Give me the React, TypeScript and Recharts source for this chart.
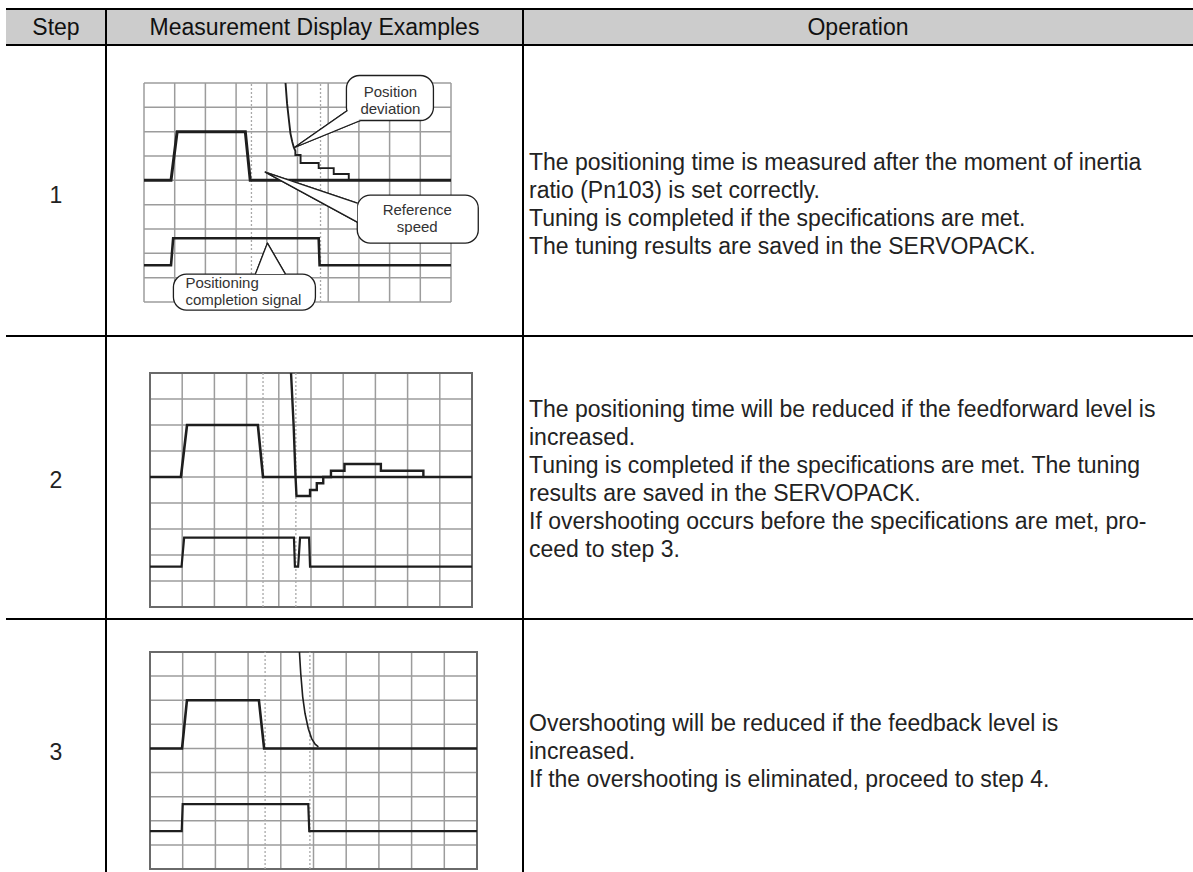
import React from 'react';
import {
  LineChart,
  Line,
  XAxis,
  YAxis,
  CartesianGrid,
  ReferenceLine,
  ReferenceArea,
  ReferenceDot,
} from 'recharts';

type Pt = { x: number; y: number };

const headers = ['Step', 'Measurement Display Examples', 'Operation'];
const steps = ['1', '2', '3'];

const operation1 = [
  'The positioning time is measured after the moment of inertia',
  'ratio (Pn103) is set correctly.',
  'Tuning is completed if the specifications are met.',
  'The tuning results are saved in the SERVOPACK.',
];
const operation2 = [
  'The positioning time will be reduced if the feedforward level is',
  'increased.',
  'Tuning is completed if the specifications are met. The tuning',
  'results are saved in the SERVOPACK.',
  'If overshooting occurs before the specifications are met, pro-',
  'ceed to step 3.',
];
const operation3 = [
  'Overshooting will be reduced if the feedback level is',
  'increased.',
  'If the overshooting is eliminated, proceed to step 4.',
];

// grid divisions of the scope screen
const divX = [0, 1, 2, 3, 4, 5, 6, 7, 8, 9, 10];
const divY = [0, 1, 2, 3, 4, 5, 6, 7, 8, 9];
const divYOpenTop = [0, 1, 2, 3, 4, 5, 6, 7, 8];

// step 1
const speed1: Pt[] = [
  { x: 0, y: 5 }, { x: 0.88, y: 5 }, { x: 1.08, y: 7 }, { x: 3.3, y: 7 }, { x: 3.46, y: 5 }, { x: 10, y: 5 },
];
const deviation1: Pt[] = [
  { x: 4.61, y: 9 }, { x: 4.66, y: 8.16 }, { x: 4.72, y: 7.48 }, { x: 4.77, y: 6.93 }, { x: 4.83, y: 6.58 },
  { x: 4.88, y: 6.35 }, { x: 4.93, y: 6.21 }, { x: 4.93, y: 6.04 }, { x: 5.1, y: 6.04 }, { x: 5.1, y: 5.71 },
  { x: 5.69, y: 5.71 }, { x: 5.69, y: 5.5 }, { x: 6.18, y: 5.5 }, { x: 6.18, y: 5.26 }, { x: 6.67, y: 5.26 },
  { x: 6.67, y: 5 },
];
const completion1: Pt[] = [
  { x: 0, y: 1.51 }, { x: 0.88, y: 1.51 }, { x: 0.95, y: 2.62 }, { x: 5.69, y: 2.62 }, { x: 5.72, y: 1.51 }, { x: 10, y: 1.51 },
];
const dotted1 = [3.5, 5.75];

// step 2
const speed2: Pt[] = [
  { x: 0, y: 5 }, { x: 0.96, y: 5 }, { x: 1.15, y: 7 }, { x: 3.35, y: 7 }, { x: 3.51, y: 5 }, { x: 10, y: 5 },
];
const deviation2: Pt[] = [
  { x: 4.38, y: 9 }, { x: 4.46, y: 7 }, { x: 4.52, y: 5 }, { x: 4.55, y: 4.27 }, { x: 4.97, y: 4.27 },
  { x: 4.97, y: 4.5 }, { x: 5.18, y: 4.5 }, { x: 5.18, y: 4.76 }, { x: 5.38, y: 4.76 }, { x: 5.38, y: 5 },
  { x: 5.62, y: 5 }, { x: 5.62, y: 5.24 }, { x: 6.04, y: 5.24 }, { x: 6.04, y: 5.5 }, { x: 7.17, y: 5.5 },
  { x: 7.17, y: 5.24 }, { x: 8.49, y: 5.24 }, { x: 8.49, y: 5 },
];
const completion2: Pt[] = [
  { x: 0, y: 1.55 }, { x: 0.98, y: 1.55 }, { x: 1.06, y: 2.67 }, { x: 4.47, y: 2.67 }, { x: 4.5, y: 1.55 },
  { x: 4.6, y: 1.55 }, { x: 4.66, y: 2.67 }, { x: 4.94, y: 2.67 }, { x: 4.97, y: 1.55 }, { x: 10, y: 1.55 },
];
const dotted2 = [3.51, 4.53];

// step 3
const speed3: Pt[] = [
  { x: 0, y: 5 }, { x: 0.98, y: 5 }, { x: 1.13, y: 7 }, { x: 3.33, y: 7 }, { x: 3.49, y: 5 }, { x: 10, y: 5 },
];
const deviation3: Pt[] = [
  { x: 4.57, y: 9 }, { x: 4.61, y: 8.11 }, { x: 4.67, y: 7.14 }, { x: 4.74, y: 6.46 }, { x: 4.84, y: 5.83 },
  { x: 4.94, y: 5.42 }, { x: 5.05, y: 5.18 }, { x: 5.15, y: 5.07 },
];
const completion3: Pt[] = [
  { x: 0, y: 1.57 }, { x: 0.97, y: 1.57 }, { x: 1.0, y: 2.69 }, { x: 4.84, y: 2.69 }, { x: 4.87, y: 1.57 }, { x: 10, y: 1.57 },
];
const dotted3 = [3.52, 4.89];

// callout tips (data coordinates) and labels, step 1
const deviationTip: Pt = { x: 4.9, y: 6.35 };
const speedTip: Pt = { x: 3.95, y: 5.34 };
const completionTip: Pt = { x: 4.02, y: 2.42 };
const deviationLabel = ['Position', 'deviation'];
const speedLabel = ['Reference', 'speed'];
const completionLabel = ['Positioning', 'completion signal'];

const FONT = '"Liberation Sans", Arial, Helvetica, sans-serif';
const INK = '#1e1e1e';
const TEXT_SIZE = 23;

type Callout = {
  box: [number, number, number, number]; // left, top, right, bottom relative to tip
  base: [number, number, number, number];
  text: { dx: number; dy: number; anchor: 'start' | 'middle'; step: number };
  lines: string[];
};

function calloutShape(c: Callout) {
  return (props: any) => {
    const { cx, cy } = props;
    const [l, t, r, b] = c.box;
    const [b1x, b1y, b2x, b2y] = c.base;
    const wedge = `M${cx + b1x},${cy + b1y} L${cx},${cy} L${cx + b2x},${cy + b2y}`;
    return (
      <g>
        <path d={wedge + ' Z'} fill="#fff" stroke={INK} strokeWidth={1.3} strokeLinejoin="round" />
        <rect x={cx + l} y={cy + t} width={r - l} height={b - t} rx={13} ry={13} fill="#fff" stroke={INK} strokeWidth={1.3} />
        <path d={wedge + ' Z'} fill="#fff" stroke="none" />
        <path d={wedge} fill="none" stroke={INK} strokeWidth={1.3} strokeLinejoin="round" />
        {c.lines.map((s, i) => (
          <text
            key={s}
            x={cx + c.text.dx}
            y={cy + c.text.dy + i * c.text.step}
            textAnchor={c.text.anchor}
            fontFamily={FONT}
            fontSize={15}
            fill="#333"
          >
            {s}
          </text>
        ))}
      </g>
    );
  };
}

const deviationCallout: Callout = {
  box: [52, -72, 139, -27],
  base: [53, -37, 66, -27],
  text: { dx: 96, dy: -50, anchor: 'middle', step: 16.5 },
  lines: deviationLabel,
};
const speedCallout: Callout = {
  box: [92, 23, 213, 71],
  base: [92, 31, 92, 50],
  text: { dx: 152, dy: 43, anchor: 'middle', step: 17 },
  lines: speedLabel,
};
const completionCallout: Callout = {
  box: [-94, 31, 48, 67],
  base: [-12, 31, 18, 31],
  text: { dx: -82, dy: 45, anchor: 'start', step: 16.5 },
  lines: completionLabel,
};

interface ScopeProps {
  left: number;
  top: number;
  width: number;
  height: number;
  margin: { top: number; right: number; bottom: number; left: number };
  speed: Pt[];
  deviation: Pt[];
  completion: Pt[];
  dotted: number[];
  framed: boolean;
  yTicks: number[];
  thick: number;
  devWidth: number;
  callouts?: { tip: Pt; c: Callout }[];
}

function Scope({ left, top, width, height, margin, speed, deviation, completion, dotted, framed, yTicks, thick, devWidth, callouts }: ScopeProps) {
  return (
    <div style={{ position: 'absolute', left, top, width, height }}>
      <LineChart width={width} height={height} margin={margin}>
        <CartesianGrid stroke="#9c9c9c" strokeWidth={1.5} />
        <XAxis type="number" dataKey="x" domain={[0, 10]} ticks={divX} hide allowDataOverflow />
        <YAxis type="number" dataKey="y" domain={[0, 9]} ticks={yTicks} hide allowDataOverflow />
        {dotted.map((x) => (
          <ReferenceLine key={x} x={x} stroke="#a8a8a8" strokeWidth={1.3} strokeDasharray="2 2" />
        ))}
        {framed && (
          <ReferenceArea x1={0} x2={10} y1={0} y2={9} fill="none" stroke="#6a6a6a" strokeWidth={2} ifOverflow="visible" />
        )}
        <Line data={speed} dataKey="y" type="linear" stroke={INK} strokeWidth={thick} dot={false} isAnimationActive={false} />
        <Line data={completion} dataKey="y" type="linear" stroke={INK} strokeWidth={thick - 0.4} dot={false} isAnimationActive={false} />
        <Line data={deviation} dataKey="y" type="linear" stroke={INK} strokeWidth={devWidth} dot={false} isAnimationActive={false} />
        {(callouts || []).map(({ tip, c }, i) => (
          <ReferenceDot key={i} x={tip.x} y={tip.y} r={1} ifOverflow="visible" shape={calloutShape(c)} />
        ))}
      </LineChart>
    </div>
  );
}

const rule = (style: React.CSSProperties) => <div style={{ position: 'absolute', background: '#000', ...style }} />;

function TextBlock({ lines, top }: { lines: string[]; top: number }) {
  return (
    <div
      style={{
        position: 'absolute',
        left: 529,
        top,
        fontFamily: FONT,
        fontSize: TEXT_SIZE,
        lineHeight: '27.9px',
        color: '#222',
        whiteSpace: 'nowrap',
      }}
    >
      {lines.map((s) => (
        <div key={s}>{s}</div>
      ))}
    </div>
  );
}

function StepNo({ label, center }: { label: string; center: number }) {
  return (
    <div
      style={{
        position: 'absolute',
        left: 6,
        width: 100,
        top: center - 14,
        height: 28,
        lineHeight: '28px',
        textAlign: 'center',
        fontFamily: FONT,
        fontSize: TEXT_SIZE,
        color: '#222',
      }}
    >
      {label}
    </div>
  );
}

export default function App() {
  const headerCells = [
    { left: 6, width: 100 },
    { left: 106, width: 417 },
    { left: 523, width: 670 },
  ];
  return (
    <div style={{ position: 'absolute', left: 0, top: 0, width: 1193, height: 872, background: '#fff', overflow: 'hidden' }}>
      <div style={{ position: 'absolute', left: 6, top: 9, width: 1187, height: 36, background: '#cccccc' }} />
      {headers.map((h, i) => (
        <div
          key={h}
          style={{
            position: 'absolute',
            left: headerCells[i].left,
            width: headerCells[i].width,
            top: 9,
            height: 36,
            lineHeight: '36px',
            textAlign: 'center',
            fontFamily: FONT,
            fontSize: TEXT_SIZE,
            color: '#111',
          }}
        >
          {h}
        </div>
      ))}
      {rule({ left: 6, top: 8, width: 1187, height: 2 })}
      {rule({ left: 6, top: 44, width: 1187, height: 2 })}
      {rule({ left: 6, top: 335, width: 1187, height: 2 })}
      {rule({ left: 6, top: 618, width: 1187, height: 2 })}
      {rule({ left: 105, top: 9, width: 2, height: 863 })}
      {rule({ left: 522, top: 9, width: 2, height: 863 })}

      <StepNo label={steps[0]} center={195} />
      <StepNo label={steps[1]} center={480} />
      <StepNo label={steps[2]} center={752} />

      <TextBlock lines={operation1} top={149} />
      <TextBlock lines={operation2} top={396} />
      <TextBlock lines={operation3} top={710} />

      <Scope
        left={130}
        top={60}
        width={360}
        height={260}
        margin={{ top: 23, right: 39, bottom: 18, left: 14 }}
        speed={speed1}
        deviation={deviation1}
        completion={completion1}
        dotted={dotted1}
        framed={false}
        yTicks={divYOpenTop}
        thick={3}
        devWidth={1.9}
        callouts={[
          { tip: deviationTip, c: deviationCallout },
          { tip: speedTip, c: speedCallout },
          { tip: completionTip, c: completionCallout },
        ]}
      />
      <Scope
        left={140}
        top={363}
        width={342}
        height={254}
        margin={{ top: 10, right: 10, bottom: 10, left: 10 }}
        speed={speed2}
        deviation={deviation2}
        completion={completion2}
        dotted={dotted2}
        framed
        yTicks={divY}
        thick={2.6}
        devWidth={2.4}
      />
      <Scope
        left={140}
        top={642}
        width={347}
        height={230}
        margin={{ top: 10, right: 10, bottom: 3, left: 10 }}
        speed={speed3}
        deviation={deviation3}
        completion={completion3}
        dotted={dotted3}
        framed
        yTicks={divY}
        thick={2.6}
        devWidth={1.6}
      />
    </div>
  );
}
